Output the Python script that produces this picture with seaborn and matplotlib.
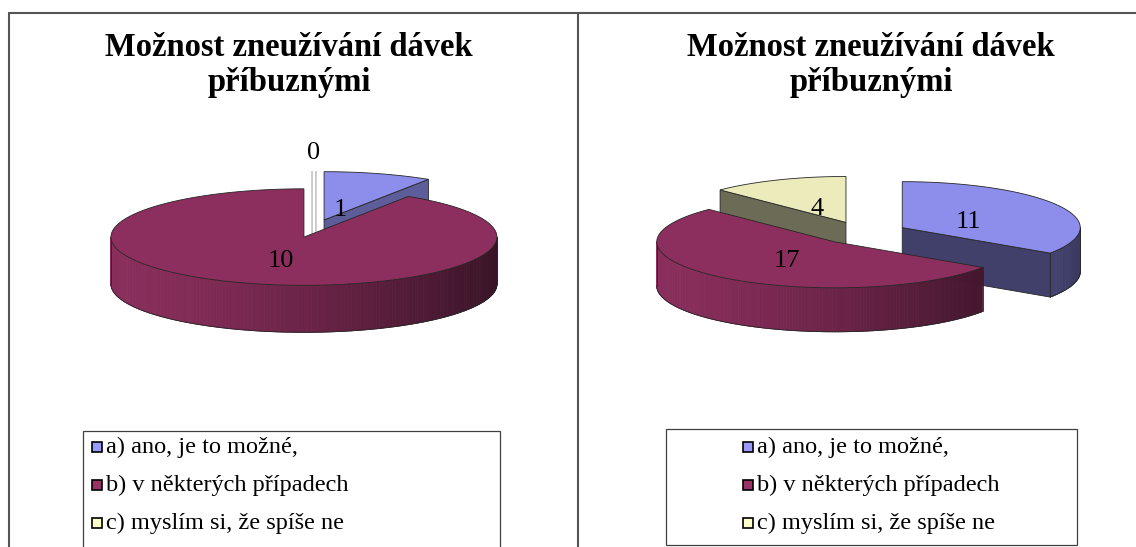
import numpy as np
import matplotlib
matplotlib.use("Agg")
import matplotlib.pyplot as plt
import matplotlib.colors as mcolors
from matplotlib.patches import Polygon, Rectangle
from matplotlib.collections import PolyCollection
import seaborn as sns

# --- data -------------------------------------------------------------
title_lines = ["Možnost zneužívání dávek", "příbuznými"]
categories = ["a) ano, je to možné,", "b) v některých případech", "c) myslím si, že spíše ne"]
values_left = [1, 10, 0]
values_right = [11, 17, 4]
colors = ["#9999FF", "#993366", "#FFFFCC"]

W, H = 1136, 547
EDGE = "#262626"

sns.set_theme(style="white")
plt.rcParams["font.family"] = ["Liberation Serif", "DejaVu Serif"]


def shade(c, f):
    r, g, b = mcolors.to_rgb(c)
    return (min(r * f, 1), min(g * f, 1), min(b * f, 1))


def draw_pie3d(ax, values, cx, cy, R, tilt, depth, explode, z=10):
    total = float(sum(values))
    clock = np.concatenate([[0.0], np.cumsum(values)]) / total * 360.0

    def pt(ox, oy, th, dz=0.0):
        th = np.radians(th)
        return ox + R * np.cos(th), oy - tilt * R * np.sin(th) + dz

    slices = []
    for i, v in enumerate(values):
        c0, c1 = clock[i], clock[i + 1]
        cm = np.radians((c0 + c1) / 2)
        slices.append(dict(i=i, v=v, lo=90 - c1, hi=90 - c0,
                           ox=cx + explode * R * np.sin(cm),
                           oy=cy - explode * tilt * R * np.cos(cm),
                           back=np.cos(cm)))

    # side faces, back slices first
    for s in sorted(slices, key=lambda s: -s["back"]):
        col = colors[s["i"]]
        ox, oy = s["ox"], s["oy"]
        if s["v"] == 0:
            # empty slice: only its edge is left, seen as a thin strip
            rx, ry = pt(ox, oy, s["hi"])
            strip = [(ox, oy + depth), (rx, ry), (rx, ry), (ox, oy + depth)]
            ax.add_patch(Polygon(strip, closed=True, fc="white", ec="#C4C4C4", lw=4.0, zorder=z)); z += 1
            ax.add_patch(Polygon(strip, closed=True, fc="white", ec="white", lw=1.6, zorder=z)); z += 1
            continue
        for phi, nrm in ((s["lo"], s["lo"] - 90), (s["hi"], s["hi"] + 90)):
            if np.sin(np.radians(nrm)) < -0.02:
                rx, ry = pt(ox, oy, phi)
                face = [(ox, oy), (rx, ry), (rx, ry + depth), (ox, oy + depth)]
                f = 0.42 + 0.22 * max(0.0, np.cos(np.radians(nrm)))
                ax.add_patch(Polygon(face, fc=shade(col, f), ec=EDGE, lw=0.6, zorder=z)); z += 1
        n = max(int(abs(s["hi"] - s["lo"])), 2)
        th = np.linspace(s["lo"], s["hi"], n + 1)
        extra = [k * 180.0 for k in range(int(np.ceil(s["lo"] / 180)), int(np.floor(s["hi"] / 180)) + 1)]
        th = np.unique(np.concatenate([th, extra]))
        mids = (th[:-1] + th[1:]) / 2
        vis = np.sin(np.radians(mids)) < 0
        quads, cols = [], []
        for a, b, m, ok in zip(th[:-1], th[1:], mids, vis):
            if not ok:
                continue
            p1, p2 = pt(ox, oy, a), pt(ox, oy, b)
            quads.append([p1, p2, (p2[0], p2[1] + depth), (p1[0], p1[1] + depth)])
            u = (np.cos(np.radians(m)) + 1) / 2
            cols.append(shade(col, 0.9 - 0.52 * u ** 1.4))
        if quads:
            ax.add_collection(PolyCollection(quads, facecolors=cols, edgecolors=cols,
                                             linewidths=0.6, zorder=z)); z += 1
            idx = np.where(vis)[0]
            runs = np.split(idx, np.where(np.diff(idx) > 1)[0] + 1)
            for run in runs:
                arc = th[run[0]:run[-1] + 2]
                bx, by = zip(*[pt(ox, oy, a, depth) for a in arc])
                t0, t1 = pt(ox, oy, arc[0]), pt(ox, oy, arc[-1])
                ax.plot(bx, by, color=EDGE, lw=0.6, zorder=z)
                ax.plot([t0[0], t0[0]], [t0[1], t0[1] + depth], color=EDGE, lw=0.6, zorder=z)
                ax.plot([t1[0], t1[0]], [t1[1], t1[1] + depth], color=EDGE, lw=0.6, zorder=z)
                z += 1

    # top faces
    for s in slices:
        if s["v"] == 0:
            continue
        ox, oy = s["ox"], s["oy"]
        n = max(int(abs(s["hi"] - s["lo"])), 2)
        th = np.linspace(s["lo"], s["hi"], n + 1)
        pts = [(ox, oy)] + [pt(ox, oy, a) for a in th]
        ax.add_patch(Polygon(pts, closed=True, fc=shade(colors[s["i"]], 0.92),
                             ec=EDGE, lw=0.6, zorder=z)); z += 1

    # value labels
    for s in slices:
        ox, oy = s["ox"], s["oy"]
        mid = (s["lo"] + s["hi"]) / 2
        if s["v"] == 0:
            x, y = pt(ox, oy, mid)
            y -= 18
        else:
            frac = 0.42 if s["v"] / total > 0.1 else 0.3
            x = ox + frac * R * np.cos(np.radians(mid))
            y = oy - frac * tilt * R * np.sin(np.radians(mid)) + 4
        ax.text(x, y, str(s["v"]), ha="center", va="center", fontsize=19,
                color="black", zorder=z)
    return z + 1


fig = plt.figure(figsize=(W / 100, H / 100), dpi=100)
ax = fig.add_axes([0, 0, 1, 1])
ax.set_xlim(0, W)
ax.set_ylim(H, 0)
ax.axis("off")

# outer frame and divider
ax.plot([9, W], [13, 13], color="#555555", lw=1.5, zorder=1)
ax.plot([9, 9], [13, H], color="#555555", lw=1.5, zorder=1)
ax.plot([578, 578], [13, H], color="#555555", lw=1.5, zorder=1)

panels = [
    dict(values=values_left, cx=314, cy=228.5, R=193, tilt=0.25, depth=47, explode=0.185,
         tx=289, box=(83, 431, 417, 130), mx=92),
    dict(values=values_right, cx=863, cy=233, R=178, tilt=0.258, depth=44, explode=0.25,
         tx=871, box=(666, 429, 411, 116), mx=743),
]

for p in panels:
    for line, yb in zip(title_lines, [56, 91]):
        ax.text(p["tx"], yb, line, ha="center", va="baseline", fontsize=23.5,
                fontweight="bold", color="black")
    draw_pie3d(ax, p["values"], p["cx"], p["cy"], p["R"], p["tilt"], p["depth"], p["explode"])

    bx, by, bw, bh = p["box"]
    ax.add_patch(Rectangle((bx, by), bw, bh, fc="white", ec="#404040", lw=0.9, zorder=2))
    for k, (lab, col) in enumerate(zip(categories, colors)):
        base = 453 + 38 * k
        ax.add_patch(Rectangle((p["mx"], base - 11), 10, 10, fc=col, ec="black", lw=1.2, zorder=3))
        ax.text(p["mx"] + 14, base, lab, ha="left", va="baseline", fontsize=17.5, color="black", zorder=3)

fig.savefig("out.png", dpi=100)
